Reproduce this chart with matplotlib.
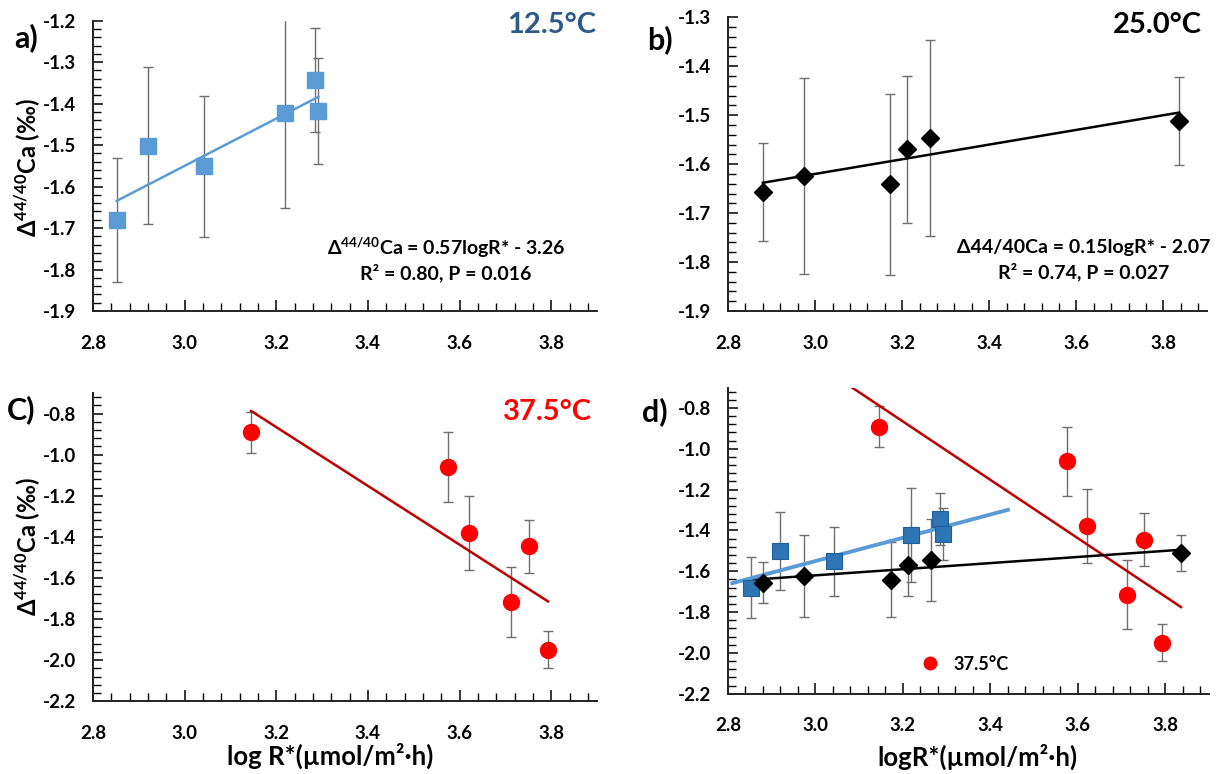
import matplotlib
matplotlib.use("Agg")
import matplotlib.pyplot as plt
from matplotlib.ticker import MultipleLocator, FormatStrFormatter
from matplotlib.lines import Line2D
import numpy as np

plt.rcParams['font.family'] = ['Lato', 'DejaVu Sans']
plt.rcParams['font.weight'] = 'bold'
plt.rcParams['mathtext.fontset'] = 'custom'
plt.rcParams['mathtext.rm'] = 'Lato'
plt.rcParams['mathtext.bf'] = 'Lato:bold'

# ---------------- data ----------------
# 12.5 °C
x125 = [2.852, 2.919, 3.043, 3.219, 3.285, 3.292]
y125 = [-1.681, -1.501, -1.551, -1.422, -1.343, -1.418]
e125 = [0.150, 0.190, 0.170, 0.230, 0.126, 0.127]
slope125, icpt125 = 0.57, -3.26

# 25.0 °C
x250 = [2.880, 2.974, 3.173, 3.212, 3.265, 3.836]
y250 = [-1.657, -1.624, -1.641, -1.570, -1.546, -1.511]
e250 = [0.100, 0.200, 0.185, 0.150, 0.200, 0.090]
slope250, icpt250 = 0.15, -2.07

# 37.5 °C
x375 = [3.145, 3.575, 3.620, 3.712, 3.752, 3.793]
y375 = [-0.892, -1.061, -1.379, -1.715, -1.446, -1.950]
e375 = [0.100, 0.170, 0.180, 0.170, 0.130, 0.090]
slope375, icpt375 = -1.43, 3.71

# fit-line x extents
fitx_a = [2.852, 3.292]
fitx_b = [2.880, 3.836]
fitx_c = [3.145, 3.793]
fitx_d_blue = [2.810, 3.440]
fitx_d_black = [2.846, 3.836]
fitx_d_red = [2.846, 3.836]

xticks = [2.8, 3.0, 3.2, 3.4, 3.6, 3.8]

# ---------------- styling ----------------
W, H = 1224, 774
fig = plt.figure(figsize=(W / 100, H / 100), dpi=100)
fig.patch.set_facecolor('white')


def add_ax(l, r, t, b):
    return fig.add_axes([l / W, 1 - b / H, (r - l) / W, (b - t) / H])


def px(x, y):
    return x / W, 1 - y / H


ERRC = '#6e6e6e'
BLUE_L = '#5B9BD5'
BLUE_D = '#2E75B6'
RED = '#FF0000'
RED_L = '#C00000'
TICKFS = 13.5


def style(ax, ylim, ymaj, ymin, yfmt):
    ax.set_xlim(2.8, 3.9)
    ax.set_ylim(*ylim)
    for s in ['top', 'right']:
        ax.spines[s].set_visible(False)
    for s in ['left', 'bottom']:
        ax.spines[s].set_linewidth(1.4)
        ax.spines[s].set_color('#222222')
    ax.set_xticks(xticks)
    ax.xaxis.set_minor_locator(MultipleLocator(0.04))
    ax.xaxis.set_major_formatter(FormatStrFormatter('%.1f'))
    ax.yaxis.set_major_locator(MultipleLocator(ymaj))
    ax.yaxis.set_minor_locator(MultipleLocator(ymin))
    ax.yaxis.set_major_formatter(FormatStrFormatter(yfmt))
    ax.tick_params(axis='x', which='major', direction='in', length=8, width=1.1,
                   pad=17, labelsize=TICKFS)
    ax.tick_params(axis='x', which='minor', direction='in', length=6, width=1.0)
    ax.tick_params(axis='y', which='major', direction='in', length=7, width=1.1,
                   pad=12, labelsize=TICKFS)
    ax.tick_params(axis='y', which='minor', direction='in', length=6, width=1.0)
    for lab in ax.get_xticklabels() + ax.get_yticklabels():
        lab.set_fontweight('bold')


def errs(ax, x, y, e):
    ax.errorbar(x, y, yerr=e, fmt='none', ecolor=ERRC, elinewidth=1.0,
                capsize=3.5, capthick=1.0, zorder=2)


# ---- panel a ----
axa = add_ax(93, 597, 20.7, 311)
style(axa, (-1.9, -1.2), 0.1, 0.02, '%.1f')
errs(axa, x125, y125, e125)
fx = np.array(fitx_a)
axa.plot(fx, slope125 * fx + icpt125, color=BLUE_L, lw=1.8, zorder=3)
axa.plot(x125, y125, 's', color=BLUE_L, ms=11.5, mec=BLUE_L, zorder=4)

# ---- panel b ----
axb = add_ax(728, 1207, 17.3, 311)
style(axb, (-1.9, -1.3), 0.1, 0.02, '%.1f')
errs(axb, x250, y250, e250)
fx = np.array(fitx_b)
axb.plot(fx, slope250 * fx + icpt250, color='black', lw=1.8, zorder=3)
axb.plot(x250, y250, 'D', color='black', ms=9, zorder=4)

# ---- panel c ----
axc = add_ax(93, 597, 393, 701.3)
style(axc, (-2.2, -0.7), 0.2, 0.04, '%.1f')
axc.set_yticks([-2.2, -2.0, -1.8, -1.6, -1.4, -1.2, -1.0, -0.8])
errs(axc, x375, y375, e375)
fx = np.array(fitx_c)
axc.plot(fx, slope375 * fx + icpt375, color=RED_L, lw=1.8, zorder=3)
axc.plot(x375, y375, 'o', color=RED, ms=11.5, zorder=4)

# ---- panel d ----
axd = add_ax(728, 1209, 387.6, 693.7)
style(axd, (-2.2, -0.7), 0.2, 0.04, '%.1f')
axd.set_yticks([-2.2, -2.0, -1.8, -1.6, -1.4, -1.2, -1.0, -0.8])
errs(axd, x375, y375, e375)
errs(axd, x125, y125, e125)
errs(axd, x250, y250, e250)
fx = np.array(fitx_d_red)
axd.plot(fx, slope375 * fx + icpt375, color=RED_L, lw=1.8, zorder=3)
fx = np.array(fitx_d_black)
axd.plot(fx, slope250 * fx + icpt250, color='black', lw=1.8, zorder=3)
fx = np.array(fitx_d_blue)
axd.plot(fx, slope125 * fx + icpt125, color=BLUE_L, lw=2.8, zorder=3)
axd.plot(x250, y250, 'D', color='black', ms=9, zorder=5)
axd.plot(x125, y125, 's', color=BLUE_D, ms=11.5, mec='#1F5F99', mew=0.8, zorder=4)
axd.plot(x375, y375, 'o', color=RED, ms=11.5, zorder=4)
h = Line2D([], [], marker='o', color=RED, ls='none', ms=9)
axd.legend([h], ['37.5°C'], loc='center left', bbox_to_anchor=px(912, 664),
           bbox_transform=fig.transFigure, frameon=False, handletextpad=0.3,
           prop={'weight': 'bold', 'size': 13}, borderaxespad=0, borderpad=0)

# ---------------- texts ----------------
fig.text(*px(26, 38), 'a)', fontsize=22, fontweight='bold', ha='center', va='center')
fig.text(*px(660, 40), 'b)', fontsize=22, fontweight='bold', ha='center', va='center')
fig.text(*px(21, 410), 'C)', fontsize=22, fontweight='bold', ha='center', va='center')
fig.text(*px(655, 412), 'd)', fontsize=22, fontweight='bold', ha='center', va='center')

fig.text(*px(596, 25), '12.5°C', fontsize=21, fontweight='bold', color='#2E5A87',
         ha='right', va='center')
fig.text(*px(1202, 25), '25.0°C', fontsize=21, fontweight='bold', color='black',
         ha='right', va='center')
fig.text(*px(592, 412), '37.5°C', fontsize=21, fontweight='bold', color=RED,
         ha='right', va='center')

ylab = 'Δ$\\mathbf{^{44/40}}$Ca (‰)'
fig.text(*px(28, 168), ylab, fontsize=17, fontweight='bold', rotation=90,
         ha='center', va='center')
fig.text(*px(28, 547), ylab, fontsize=17, fontweight='bold', rotation=90,
         ha='center', va='center')

fig.text(*px(446, 248), 'Δ$\\mathbf{^{44/40}}$Ca = 0.57logR* - 3.26', fontsize=14,
         fontweight='bold', ha='center', va='center')
fig.text(*px(446, 273), 'R² = 0.80, P = 0.016', fontsize=14,
         fontweight='bold', ha='center', va='center')
fig.text(*px(1084, 247), 'Δ44/40Ca = 0.15logR* - 2.07', fontsize=14,
         fontweight='bold', ha='center', va='center')
fig.text(*px(1084, 272), 'R² = 0.74, P = 0.027', fontsize=14,
         fontweight='bold', ha='center', va='center')

fig.text(*px(330, 756), 'log R*(µmol/m²·h)', fontsize=18.5, fontweight='bold',
         ha='center', va='center')
fig.text(*px(977, 757), 'logR*(µmol/m²·h)', fontsize=18.5, fontweight='bold',
         ha='center', va='center')

fig.savefig('out.png', dpi=100, facecolor='white')
